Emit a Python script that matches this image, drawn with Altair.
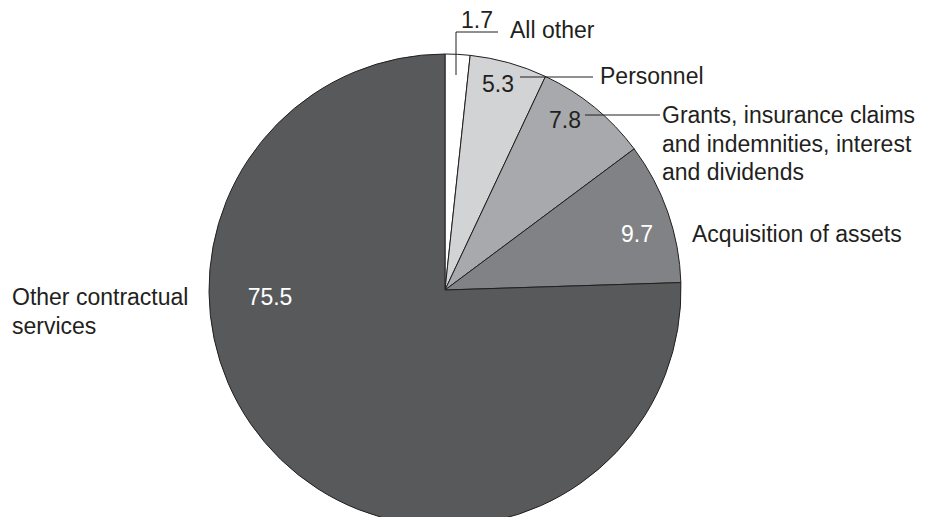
import altair as alt
import pandas as pd

# Slice data (clockwise from 12 o'clock)
categories = ["All other", "Personnel", "Grants, insurance claims and indemnities, interest and dividends",
              "Acquisition of assets", "Other contractual services"]
values = [1.7, 5.3, 7.8, 9.7, 75.5]
colors = ["#ffffff", "#d1d3d4", "#a7a9ac", "#808285", "#58595b"]

# Annotation text (value labels and category labels), in page pixels
label_text = ["1.7", "All other", "5.3", "Personnel", "7.8",
              "Grants, insurance claims", "and indemnities, interest", "and dividends",
              "9.7", "Acquisition of assets", "75.5", "Other contractual", "services"]
label_x = [477, 510, 498, 600, 565, 662, 662, 662, 637, 692, 270, 12, 12]
label_y = [28, 38, 92, 84, 128, 123, 152, 180, 242, 242, 305, 305, 334]
label_align = ["center", "left", "center", "left", "center", "left", "left", "left",
               "center", "left", "center", "left", "left"]
label_color = ["#231f20"] * 8 + ["#ffffff", "#231f20", "#ffffff", "#231f20", "#231f20"]

# Leader lines (page pixels)
lead_x = [456, 456, 520, 585]
lead_y = [32, 32, 77, 115]
lead_x2 = [456, 498, 593, 660]
lead_y2 = [75, 32, 77, 115]

M = 8  # page margin
W, H = 943 - 2 * M, 525 - 2 * M
CX, CY, R = 445 - M, 290 - M, 236

pie_df = pd.DataFrame({"category": categories, "value": values, "order": list(range(len(values)))})
lab_df = pd.DataFrame({"text": label_text, "x": [v - M for v in label_x], "y": [v - M for v in label_y],
                       "align": label_align, "color": label_color})
lead_df = pd.DataFrame({"x": [v - M for v in lead_x], "y": [v - M for v in lead_y],
                        "x2": [v - M for v in lead_x2], "y2": [v - M for v in lead_y2]})

pie = alt.Chart(pie_df).mark_arc(stroke="#231f20", strokeWidth=1).encode(
    theta=alt.Theta("value:Q", stack=True),
    order=alt.Order("order:Q"),
    color=alt.Color("category:N", scale=alt.Scale(domain=categories, range=colors), legend=None),
    x=alt.value(CX), y=alt.value(CY), radius=alt.value(R),
)

leads = alt.Chart(lead_df).mark_rule(color="#231f20", strokeWidth=1).encode(
    x=alt.X("x:Q", scale=None, axis=None), y=alt.Y("y:Q", scale=None, axis=None),
    x2="x2:Q", y2="y2:Q",
)

def text_layer(align):
    return alt.Chart(lab_df[lab_df["align"] == align]).mark_text(
        align=align, baseline="alphabetic", font="Liberation Sans", fontSize=23
    ).encode(
        x=alt.X("x:Q", scale=None, axis=None), y=alt.Y("y:Q", scale=None, axis=None),
        text="text:N", color=alt.Color("color:N", scale=None),
    )

chart = alt.layer(pie, leads, text_layer("center"), text_layer("left")).properties(
    width=W, height=H, autosize=alt.AutoSizeParams(type="none"), padding=0
).configure_view(stroke=None)

chart.save("out.html", embed_options={"renderer": "svg", "actions": False})
